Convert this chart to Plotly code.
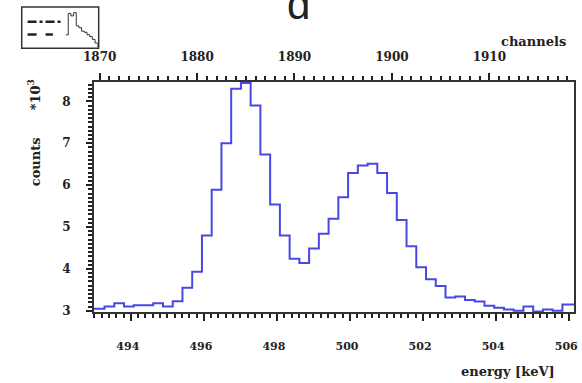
import plotly.graph_objects as go

# ---- data ----
channels = list(range(1869, 1920))
counts_k = [3.05, 3.05, 3.10, 3.18, 3.10, 3.13, 3.13, 3.18, 3.10, 3.23,
            3.55, 3.93, 4.80, 5.89, 7.00, 8.30, 8.44, 7.90, 6.73, 5.54,
            4.80, 4.24, 4.14, 4.49, 4.84, 5.20, 5.71, 6.29, 6.47, 6.51,
            6.29, 5.81, 5.17, 4.54, 4.04, 3.75, 3.59, 3.32, 3.34, 3.26,
            3.22, 3.12, 3.07, 3.03, 3.00, 3.10, 2.98, 3.03, 3.00, 3.15, 3.15]
energy_ticks = [494, 496, 498, 500, 502, 504, 506]
channel_ticks = [1870, 1880, 1890, 1900, 1910]
count_ticks = [3, 4, 5, 6, 7, 8]
# thumbnail overview (relative heights)
overview = [0.35, 0.95, 0.88, 0.97, 0.60, 0.55, 0.45, 0.42, 0.35, 0.30, 0.22, 0.12, 0.0]

# calibration energy = E0 + (channel - 1870) * gain
E0, GAIN = 493.147, 0.26667
CH_RANGE = [1869.4, 1918.7]

def ch2e(c):
    return E0 + (c - 1870) * GAIN

edges = [c - 0.5 for c in channels] + [channels[-1] + 0.5]
vals = counts_k + [counts_k[-1]]
e_edges = [ch2e(c) for c in edges]

W, H = 582, 383
def fx(p): return p / W
def fy(p): return 1 - p / H

BLUE = "rgb(72,72,228)"
INK = "#222222"
FONT = dict(family="DejaVu Serif", size=12, color=INK, weight="bold")
XFONT = dict(family="DejaVu Serif", size=11, color=INK, weight="bold")
LFONT = dict(family="DejaVu Serif", size=13, color=INK, weight="bold")

fig = go.Figure()
fig.add_trace(go.Scatter(x=e_edges, y=vals, mode="lines", line=dict(color=BLUE, width=2, shape="hv"),
                         xaxis="x", yaxis="y", showlegend=False, hoverinfo="skip"))
fig.add_trace(go.Scatter(x=edges, y=vals, mode="lines", line=dict(color="rgba(0,0,0,0)", width=0),
                         xaxis="x2", yaxis="y", showlegend=False, hoverinfo="skip"))
fig.add_trace(go.Scatter(x=list(range(len(overview))), y=overview, mode="lines",
                         line=dict(color="#333", width=1, shape="hv"),
                         xaxis="x3", yaxis="y3", showlegend=False, hoverinfo="skip"))

dom_x = [fx(85), fx(578)]
dom_y = [fy(317), fy(83)]
axis_common = dict(showgrid=False, zeroline=False, showline=True, linecolor="#333", linewidth=1.5,
                   ticks="outside", tickcolor="#222")
minor_common = dict(ticks="outside", tickcolor="#222", tickwidth=1.5, ticklen=4, showgrid=False)

fig.update_layout(
    width=W, height=H, margin=dict(l=0, r=0, t=0, b=0),
    paper_bgcolor="white", plot_bgcolor="white",
    xaxis=dict(domain=dom_x, anchor="y", range=[ch2e(CH_RANGE[0]), ch2e(CH_RANGE[1])],
               tickmode="linear", tick0=energy_ticks[0], dtick=energy_ticks[1] - energy_ticks[0],
               ticklen=7, tickwidth=1.5, ticklabelstandoff=16, ticklabelshift=-3, tickfont=XFONT,
               minor=dict(dtick=0.2, tick0=494, **minor_common),
               **axis_common),
    xaxis2=dict(domain=dom_x, anchor="y", overlaying="x", side="top", range=CH_RANGE,
                tickmode="linear", tick0=channel_ticks[0], dtick=channel_ticks[1] - channel_ticks[0],
                ticklen=7, tickwidth=1.5, ticklabelstandoff=7, tickfont=FONT,
                minor=dict(dtick=1, tick0=1870, **minor_common),
                **axis_common),
    yaxis=dict(domain=dom_y, anchor="x", range=[2.97, 8.47],
               tickmode="linear", tick0=count_ticks[0], dtick=count_ticks[1] - count_ticks[0],
               ticklen=6, tickwidth=1.5, ticklabelstandoff=13, mirror=True, tickfont=FONT,
               minor=dict(dtick=0.1, tick0=3, **minor_common),
               **axis_common),
    xaxis3=dict(domain=[fx(56), fx(89)], anchor="y3", visible=False, range=[0, len(overview) - 1]),
    yaxis3=dict(domain=[fy(48), fy(10)], anchor="x3", visible=False, range=[0, 1.05]),
)

shapes = [
    dict(type="rect", xref="paper", yref="paper", x0=fx(11), x1=fx(90), y0=fy(49), y1=fy(7),
         line=dict(color="#333", width=1.5)),
    dict(type="line", xref="paper", yref="paper", x0=fx(17), x1=fx(52), y0=fy(22), y1=fy(22),
         line=dict(color="#222", width=2.5, dash="dashdot")),
    dict(type="line", xref="paper", yref="paper", x0=fx(17), x1=fx(43), y0=fy(35), y1=fy(35),
         line=dict(color="#222", width=2.5, dash="dash")),
]
fig.update_layout(shapes=shapes)

ann = [
    dict(text="d", x=fx(295), y=fy(30), xref="paper", yref="paper", xanchor="center", yanchor="bottom",
         showarrow=False, font=dict(family="Liberation Sans", size=42, color=INK)),
    dict(text="channels", x=fx(536), y=fy(42), xref="paper", yref="paper", xanchor="center", yanchor="middle",
         showarrow=False, font=LFONT),
    dict(text="energy [keV]", x=fx(510), y=fy(377), xref="paper", yref="paper", xanchor="center", yanchor="middle",
         showarrow=False, font=LFONT),
    dict(text="counts      *10<sup>3</sup>", x=fx(24), y=fy(135), xref="paper", yref="paper", xanchor="center",
         yanchor="middle", textangle=-90, showarrow=False, font=LFONT),
]
fig.update_layout(annotations=ann)

fig.write_html("out.html")
